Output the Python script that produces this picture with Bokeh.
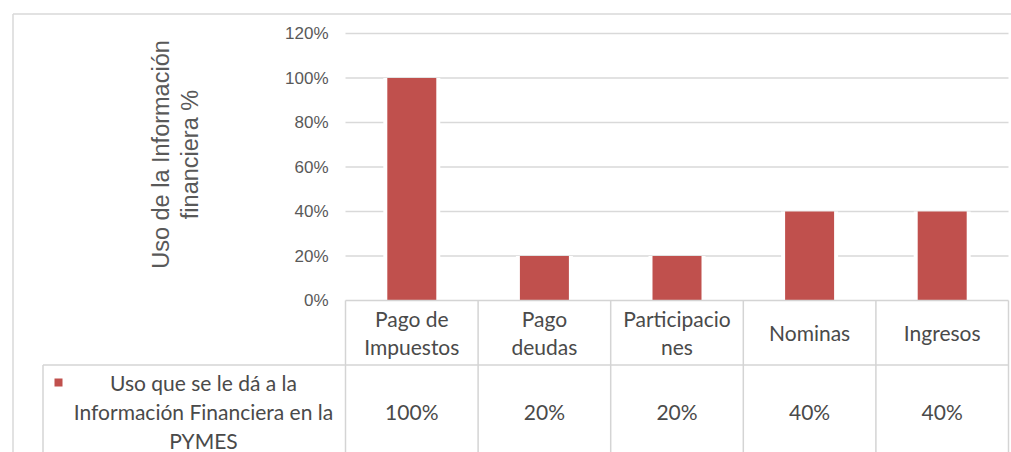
import math
from bokeh.plotting import figure
from bokeh.models import Range1d
from bokeh.core.properties import value
from bokeh.embed import file_html
from bokeh.resources import INLINE

# ---------------- data ----------------
categories = ["Pago de\nImpuestos", "Pago\ndeudas", "Participacio\nnes", "Nominas", "Ingresos"]
values = [1.00, 0.20, 0.20, 0.40, 0.40]
value_labels = ["100%", "20%", "20%", "40%", "40%"]
y_ticks = [0.0, 0.2, 0.4, 0.6, 0.8, 1.0, 1.2]
y_tick_labels = ["0%", "20%", "40%", "60%", "80%", "100%", "120%"]
series_name = "Uso que se le dá a la\nInformación Financiera en la\nPYMES"
y_title = "Uso de la Información\nfinanciera %"

# ---------------- layout (figure pixels) ----------------
W, H = 1011, 452
PLOT_L, PLOT_R = 345, 1008         # plot area left / right (px)
Y_TOP_PX, Y_ZERO_PX = 33, 300      # pixel of max tick and of 0
n = len(categories)
CAT_W = (PLOT_R - PLOT_L) / n
Y_MAX = y_ticks[-1]
PX_PER_UNIT = (Y_ZERO_PX - Y_TOP_PX) / Y_MAX


def xd(px):
    return -0.5 + (px - PLOT_L) / CAT_W


def yd(py):
    return (Y_ZERO_PX - py) / PX_PER_UNIT


BORDER_X, BORDER_Y = 12.5, 13.5
ROW_LINE_PX = 364.5
LEG_LEFT_PX = 42.5
GRID_COLOR = "#d9d9d9"
TABLE_COLOR = "#d4d4d4"
BAR_COLOR = "#c0504d"
TXT = "#4a4a4a"
AX_TXT = "#595959"
TABLE_FONT = value("Lato")
TABLE_SIZE = "21px"

p = figure(width=W, height=H, output_backend="svg", toolbar_location=None,
           x_range=Range1d(xd(0), xd(W)), y_range=Range1d(yd(H), yd(0)),
           min_border=0, min_border_left=0, min_border_right=0,
           min_border_top=0, min_border_bottom=0)
p.xaxis.visible = False
p.yaxis.visible = False
p.grid.visible = False
p.outline_line_color = None
p.background_fill_color = "white"

# outer chart border
p.segment(x0=[xd(BORDER_X), xd(BORDER_X)], y0=[yd(BORDER_Y), yd(BORDER_Y)],
          x1=[xd(W), xd(BORDER_X)], y1=[yd(BORDER_Y), yd(H)],
          line_color=GRID_COLOR, line_width=1.5)

# gridlines (skip 0, which is the table's top edge)
grid_vals = [t for t in y_ticks if t > 0]
p.segment(x0=[-0.5] * len(grid_vals), x1=[n - 0.5] * len(grid_vals),
          y0=grid_vals, y1=grid_vals, line_color=GRID_COLOR, line_width=1.5)

# bars (white halo, then colour)
xs = list(range(n))
bar_w = 49 / CAT_W
halo_w = (49 + 8) / CAT_W
p.vbar(x=xs, top=values, bottom=0, width=halo_w, fill_color="white", line_color=None)
p.vbar(x=xs, top=values, bottom=0, width=bar_w, fill_color=BAR_COLOR, line_color=None)

# y tick labels
p.text(x=[xd(328)] * len(y_ticks), y=y_ticks, text=y_tick_labels,
       text_align="right", text_baseline="middle", text_font=value("Liberation Sans"),
       text_font_size="17px", text_color=AX_TXT)

# y axis title
p.text(x=[xd(175)], y=[yd(154)], text=[y_title], angle=math.pi / 2,
       text_align="center", text_baseline="middle", text_font=value("Liberation Sans"),
       text_font_size="23.5px", text_color=AX_TXT, text_line_height=1.14)

# data table lines
bounds = [i - 0.5 for i in range(n + 1)]
p.segment(x0=[-0.5], x1=[n - 0.5], y0=[0], y1=[0], line_color=TABLE_COLOR, line_width=1.5)
p.segment(x0=[xd(LEG_LEFT_PX)], x1=[n - 0.5], y0=[yd(ROW_LINE_PX)], y1=[yd(ROW_LINE_PX)],
          line_color=TABLE_COLOR, line_width=1.5)
p.segment(x0=bounds, x1=bounds, y0=[0] * len(bounds), y1=[yd(H)] * len(bounds),
          line_color=TABLE_COLOR, line_width=1.5)
p.segment(x0=[xd(LEG_LEFT_PX)], x1=[xd(LEG_LEFT_PX)], y0=[yd(ROW_LINE_PX)], y1=[yd(H)],
          line_color=TABLE_COLOR, line_width=1.5)

# header labels
p.text(x=xs, y=[yd(332)] * n, text=categories, text_align="center", text_baseline="middle",
       text_font=TABLE_FONT, text_font_size=TABLE_SIZE, text_color=TXT,
       text_line_height=1.15)

# legend key + series name
p.scatter(x=[xd(58)], y=[yd(382)], marker="square", size=8, fill_color=BAR_COLOR,
          line_color=None)
p.text(x=[xd(203)], y=[yd(411)], text=[series_name], text_align="center",
       text_baseline="middle", text_font=TABLE_FONT, text_font_size=TABLE_SIZE,
       text_color=TXT, text_line_height=1.15)

# values row
p.text(x=xs, y=[yd(411)] * n, text=value_labels, text_align="center", text_baseline="middle",
       text_font=TABLE_FONT, text_font_size=TABLE_SIZE, text_color=TXT)

open("out.html", "w").write(file_html(p, INLINE))
